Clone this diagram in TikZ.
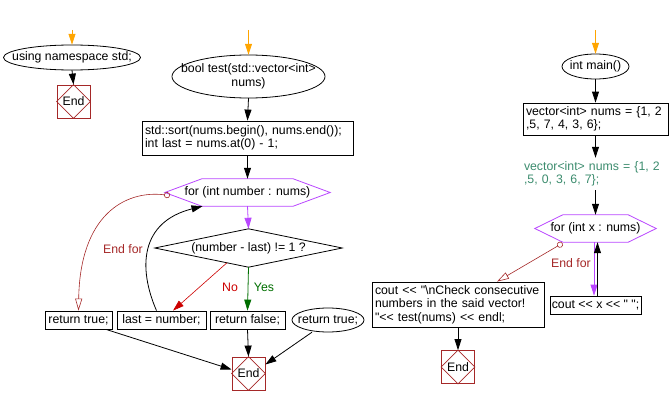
\documentclass[tikz,border=0pt]{standalone}
\usepackage{fontspec}
\setmainfont{Liberation Sans}[Ligatures=TeXOff]
\usepackage{tikz}
\usetikzlibrary{arrows.meta,calc}
\definecolor{startcol}{RGB}{255,165,0}
\definecolor{endcol}{RGB}{165,40,40}
\definecolor{loopcol}{RGB}{185,70,255}
\definecolor{nocol}{RGB}{204,0,0}
\definecolor{yescol}{RGB}{0,110,0}
\definecolor{notecol}{RGB}{60,140,110}
\tikzset{
  box/.style={draw,line width=0.8pt,inner sep=3pt,align=left},
  term/.style={inner sep=0pt,align=center},
  endnode/.style={draw=endcol,line width=0.8pt,minimum size=33pt,inner sep=0pt},
  flow/.style={line width=0.8pt,-{Triangle[length=11pt,width=7pt]}},
  endfor/.style={endcol,line width=0.6pt,{Circle[open,length=6pt]}-{Triangle[open,length=12pt,width=7pt]}}
}
\newcommand{\stopnode}[3]{\node[endnode] (#1) at (#2,#3) {End};
  \draw[endcol,line width=0.6pt] (#1.north) -- (#1.east) -- (#1.south) -- (#1.west) -- cycle;}
\newcommand{\hexa}[2]{\draw[loopcol,line width=0.8pt] (#1.west) -- ([xshift=#2]#1.north west) -- ([xshift=-#2]#1.north east) -- (#1.east) -- ([xshift=-#2]#1.south east) -- ([xshift=#2]#1.south west) -- cycle;}
\newcommand{\termoval}[3]{\draw[line width=0.8pt] (#1.center) ellipse [x radius=#2, y radius=#3];}

\begin{document}
\begin{tikzpicture}[x=1pt,y=-1pt,font=\fontsize{12.3}{13.5}\selectfont]
\useasboundingbox (0,0) rectangle (669,404);
% ---- USING NAMESPACE ----
\coordinate (s1) at (72,30);
\node[term,minimum width=137pt,minimum height=25pt] (uns) at (72,57.5) {using namespace std;};
\termoval{uns}{68.5pt}{12.5pt}
\stopnode{end1}{73.5}{101.5}
\draw[flow,startcol] (s1) -- (uns.north);
\draw[flow] (uns.south) -- (end1.north);
% ---- TEST ----
\coordinate (s2) at (248.5,30);
\node[term,minimum width=153pt,minimum height=43pt] (bt) at (248.5,76.5) {bool test(std::vector<int>\\nums)};
\termoval{bt}{76.5pt}{21.5pt}
\node[box,text width=205pt,minimum height=34pt] (sort) at (247.5,138) {std::sort(nums.begin(), nums.end());\\int last = nums.at(0) - 1;};
\node[term,minimum width=165pt,minimum height=27pt] (for1) at (247.5,192.5) {for (int number : nums)};
\hexa{for1}{37pt}
\node[term,minimum width=187pt,minimum height=38pt] (dec) at (248.5,248) {(number - last) != 1 ?};
\draw[line width=0.8pt] (dec.west) -- (dec.north) -- (dec.east) -- (dec.south) -- cycle;
\node[box,minimum width=67pt,minimum height=18pt,inner sep=0pt] (rt1) at (78.5,320) {return true;};
\node[box,minimum width=89pt,minimum height=18pt,inner sep=0pt] (last) at (161.5,320) {last = number;};
\node[box,minimum width=75pt,minimum height=18pt,inner sep=0pt] (rf) at (247.5,320) {return false;};
\node[term,minimum width=72pt,minimum height=24pt] (rt2) at (328,320) {return true;};
\termoval{rt2}{36pt}{12pt}
\stopnode{end2}{248.5}{373.5}
\draw[flow,startcol] (s2) -- (bt.north);
\draw[flow] (bt.south) -- (sort.north);
\draw[flow] (sort.south) -- (for1.north);
\draw[flow,loopcol] (for1.south) -- (dec.north);
\draw[flow,yescol] (dec.south) -- (rf.north);
\node[yescol] (yes) at (264,287) {Yes};
\coordinate (dno) at ($(dec.south)!0.23!(dec.west)$);
\draw[line width=0.6pt,nocol,-{Triangle[length=11pt,width=7pt]}] (dno) -- ([xshift=11.5pt]last.north);
\node[nocol] (no) at (230,287) {No};
\draw[flow] ([xshift=-5pt]last.north) .. controls (138,268) and (140,222) .. ([xshift=-45pt]for1.south);
\draw[endfor] (170,195.5) .. controls (125,190) and (80,215) .. (rt1.north);
\node[endcol] (ef1) at (123,249) {End for};
\draw[flow] ([xshift=27.5pt]rt1.south) -- ([yshift=4pt]end2.west);
\draw[flow] (rf.south) -- (end2.north);
\draw[flow] ([xshift=-16pt]rt2.south) -- ([yshift=9pt]end2.east);
% ---- MAIN ----
\coordinate (s3) at (595.5,30);
\node[term,minimum width=67pt,minimum height=25pt] (main) at (595.5,66.5) {int main()};
\termoval{main}{33.5pt}{12.5pt}
\node[box,text width=139pt,minimum height=32pt] (vec) at (595.5,119) {vector<int> nums = \{1, 2\\,5, 7, 4, 3, 6\};};
\node[term,text width=143pt,align=left,minimum height=32pt,text=notecol] (cmt) at (595.5,174) {vector<int> nums = \{1, 2\\,5, 0, 3, 6, 7\};};
\node[term,minimum width=121pt,minimum height=27pt] (for2) at (595.5,228.5) {for (int x : nums)};
\hexa{for2}{28pt}
\node[box,minimum width=91pt,minimum height=18pt,inner sep=0pt] (coutx) at (595.5,305) {cout << x << " ";};
\node[box,text width=166pt,minimum height=45pt] (cout) at (458,304.5) {cout << "\textbackslash nCheck consecutive\\numbers in the said vector!\\"<< test(nums) << endl;};
\stopnode{end3}{458}{367}
\draw[flow,startcol] (s3) -- (main.north);
\draw[flow] (main.south) -- (vec.north);
\draw[flow] (vec.south) -- (cmt.north);
\draw[flow] (cmt.south) -- (for2.north);
\draw[flow,loopcol] ([xshift=-1.5pt]for2.south) -- ([xshift=-1.5pt]coutx.north);
\draw[flow] ([xshift=2pt]coutx.north) -- ([xshift=2pt]for2.south);
\draw[endfor] ([xshift=-33pt,yshift=-1pt]for2.south) -- ([xshift=39pt]cout.north);
\node[endcol] (ef2) at (571,263) {End for};
\draw[flow] (cout.south) -- (end3.north);
\end{tikzpicture}
\end{document}
